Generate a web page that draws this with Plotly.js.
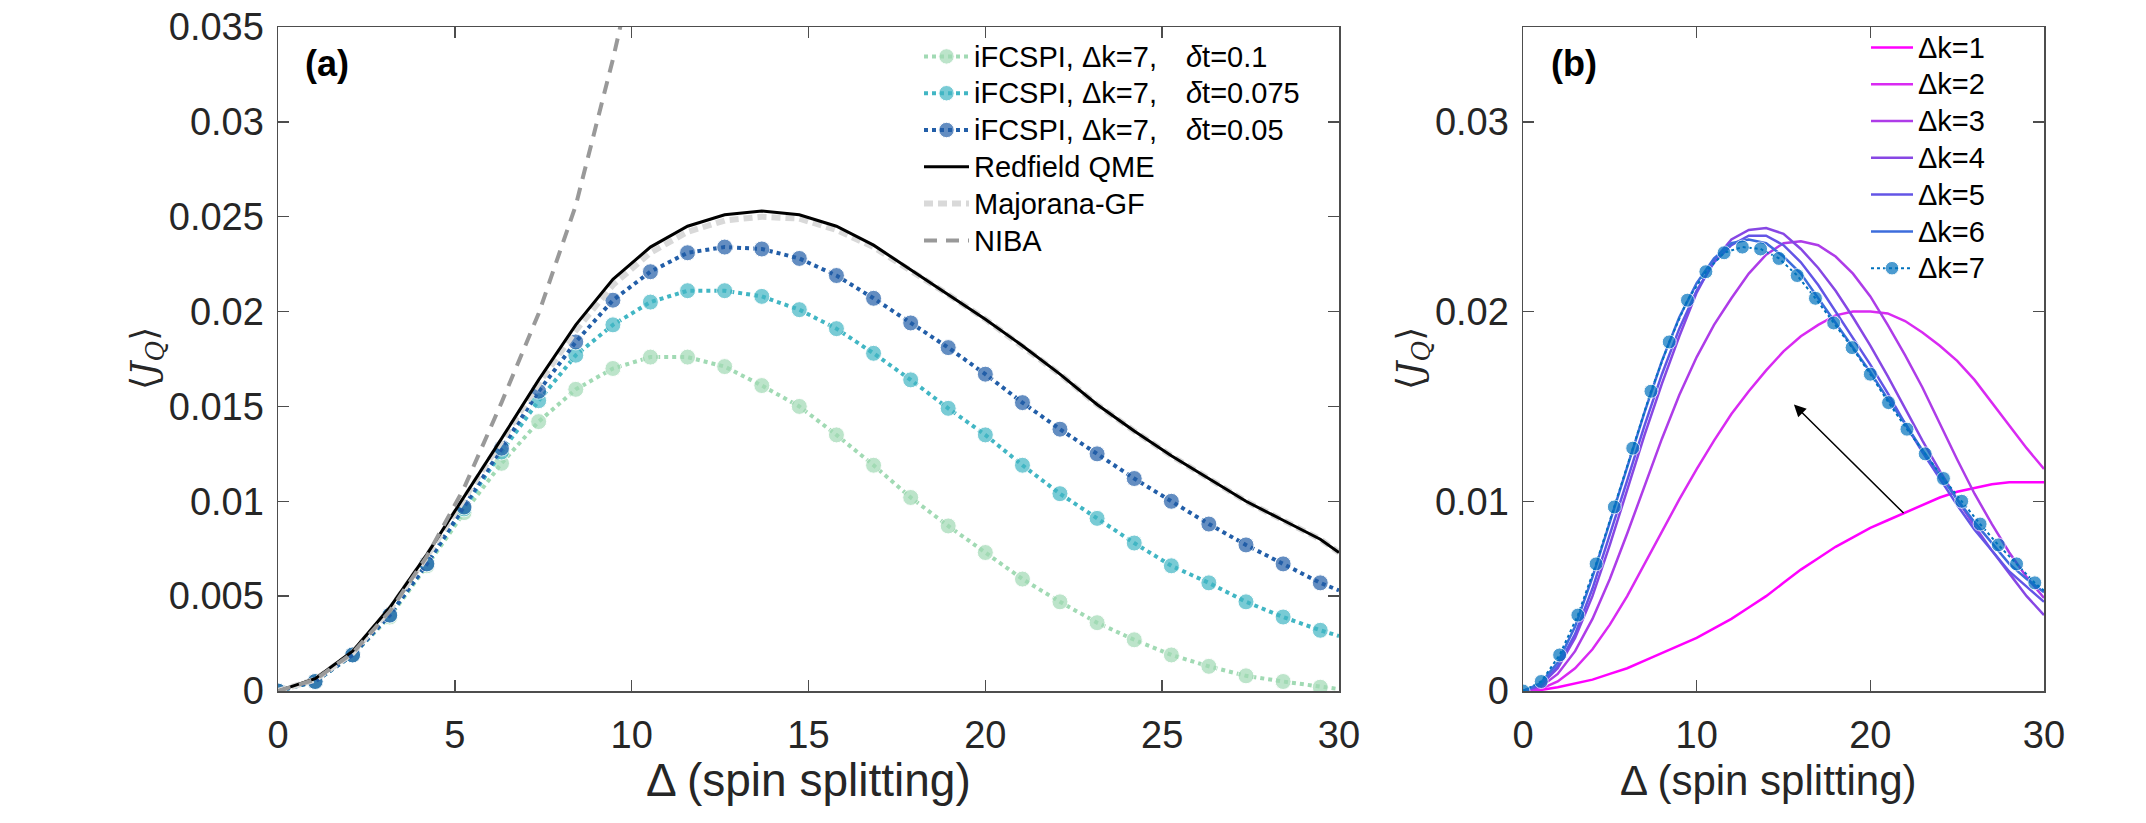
<!DOCTYPE html>
<html>
<head>
<meta charset="utf-8">
<script src="https://cdn.plot.ly/plotly-3.0.1.min.js"></script>
<style>
  html, body { margin: 0; padding: 0; background: #ffffff; }
  #plot { width: 2146px; height: 823px; }
</style>
</head>
<body>
<div id="plot"></div>
<script>
// ---- panel (a): heat current vs spin splitting ----
// Δ grid of the iFCSPI runs (last point only continues the line to the frame)
const deltaA = [0, 1.05, 2.11, 3.16, 4.21, 5.26, 6.32, 7.37, 8.42, 9.47, 10.53, 11.58, 12.63, 13.68, 14.74,
                15.79, 16.84, 17.89, 18.95, 20.00, 21.05, 22.11, 23.16, 24.21, 25.26, 26.32, 27.37, 28.42, 29.47, 30];

const jqDt010 = [0, 0.0005, 0.0019, 0.0039, 0.0066, 0.0094, 0.0120, 0.0142, 0.0159, 0.0170, 0.0176, 0.0176, 0.0171, 0.0161, 0.0150,
                 0.0135, 0.0119, 0.0102, 0.0087, 0.0073, 0.0059, 0.0047, 0.0036, 0.0027, 0.0019, 0.0013, 0.0008, 0.0005, 0.0002, 0.0001];
const jqDt0075 = [0, 0.0005, 0.0019, 0.0040, 0.0067, 0.0096, 0.0126, 0.0153, 0.0177, 0.0193, 0.0205, 0.0211, 0.0211, 0.0208, 0.0201,
                  0.0191, 0.0178, 0.0164, 0.0149, 0.0135, 0.0119, 0.0104, 0.0091, 0.0078, 0.0066, 0.0057, 0.0047, 0.0039, 0.0032, 0.0029];
const jqDt005 = [0, 0.0005, 0.0019, 0.0040, 0.0067, 0.0097, 0.0128, 0.0158, 0.0184, 0.0206, 0.0221, 0.0231, 0.0234, 0.0233, 0.0228,
                 0.0219, 0.0207, 0.0194, 0.0181, 0.0167, 0.0152, 0.0138, 0.0125, 0.0112, 0.0100, 0.0088, 0.0077, 0.0067, 0.0057, 0.0053];

const jqRedfield = [0, 0.00065, 0.0021, 0.0044, 0.0072, 0.0102, 0.0133, 0.0164, 0.0193, 0.0217, 0.0234, 0.0245, 0.0251, 0.0253, 0.0251,
                    0.0245, 0.0235, 0.0222, 0.0209, 0.0196, 0.0182, 0.0167, 0.0151, 0.0137, 0.0124, 0.0112, 0.0100, 0.0090, 0.0080, 0.0073];
const jqMajorana = [0, 0.0006, 0.0020, 0.0043, 0.0071, 0.0101, 0.0132, 0.0162, 0.0190, 0.0214, 0.0231, 0.0242, 0.0248, 0.0250, 0.0249,
                    0.0243, 0.0234, 0.0222, 0.0209, 0.0196, 0.0182, 0.0167, 0.0151, 0.0137, 0.0124, 0.0112, 0.0100, 0.0090, 0.0080, 0.0073];

const deltaNiba = [0, 1.05, 2.11, 3.16, 4.21, 5.26, 6.32, 7.37, 8.42, 9.47, 10.53];
const jqNiba = [0, 0.0006, 0.0020, 0.0042, 0.0071, 0.0107, 0.0152, 0.0199, 0.0256, 0.0333, 0.0420];

// ---- panel (b): convergence in the memory length Δk ----
const deltaB = [0, 1, 2, 3, 4, 5, 6, 7, 8, 9, 10, 11, 12, 13, 14, 15, 16, 17, 18, 19, 20, 21, 22, 23, 24, 25, 26, 27, 28, 29, 30];
const jqDk1 = [0, 0.00005, 0.0002, 0.0004, 0.0006, 0.0009, 0.0012, 0.0016, 0.0020, 0.0024, 0.0028, 0.0033, 0.0038, 0.0044, 0.0050, 0.0057,
               0.0064, 0.0070, 0.0076, 0.0081, 0.0086, 0.0090, 0.0094, 0.0098, 0.0102, 0.0105, 0.0107, 0.0109, 0.0110, 0.0110, 0.0110];
const jqDk2 = [0, 0.0001, 0.0005, 0.0012, 0.0022, 0.0035, 0.0050, 0.0067, 0.0084, 0.0101, 0.0117, 0.0132, 0.0146, 0.0158, 0.0169, 0.0179,
               0.0187, 0.0193, 0.0198, 0.0200, 0.0200, 0.0199, 0.0195, 0.0189, 0.0182, 0.0174, 0.0164, 0.0152, 0.0140, 0.0128, 0.0117];
const jqDk3 = [0, 0.0002, 0.0009, 0.0021, 0.0038, 0.0059, 0.0083, 0.0108, 0.0133, 0.0156, 0.0176, 0.0193, 0.0207, 0.0220, 0.0230, 0.0236,
               0.0237, 0.0235, 0.0229, 0.0220, 0.0208, 0.0193, 0.0177, 0.0160, 0.0141, 0.0122, 0.0104, 0.0088, 0.0073, 0.0060, 0.0049];
const jqDk4 = [0, 0.0003, 0.0012, 0.0028, 0.0050, 0.0077, 0.0106, 0.0135, 0.0162, 0.0187, 0.0210, 0.0227, 0.0238, 0.0243, 0.0244, 0.0241,
               0.0233, 0.0223, 0.0211, 0.0197, 0.0182, 0.0166, 0.0149, 0.0132, 0.0116, 0.0101, 0.0087, 0.0074, 0.0062, 0.0050, 0.0040];
const jqDk5 = [0, 0.0003, 0.0013, 0.0030, 0.0054, 0.0082, 0.0111, 0.0140, 0.0167, 0.0191, 0.0211, 0.0226, 0.0235, 0.0240, 0.0240, 0.0235,
               0.0226, 0.0214, 0.0200, 0.0186, 0.0172, 0.0157, 0.0141, 0.0126, 0.0112, 0.0098, 0.0085, 0.0074, 0.0063, 0.0055, 0.0047];
const jqDk6 = [0, 0.0004, 0.0015, 0.0034, 0.0060, 0.0089, 0.0119, 0.0147, 0.0174, 0.0197, 0.0215, 0.0228, 0.0236, 0.0238, 0.0236, 0.0229,
               0.0220, 0.0207, 0.0194, 0.0181, 0.0168, 0.0154, 0.0141, 0.0127, 0.0114, 0.0101, 0.0089, 0.0078, 0.0067, 0.0059, 0.0052];
// Δk=7 is the converged iFCSPI run (δt=0.05) shown in panel (a)
const dkLabels = ['Δk=1', 'Δk=2', 'Δk=3', 'Δk=4', 'Δk=5', 'Δk=6', 'Δk=7'];
const dkColors = ['#ff00ff', '#d92af2', '#ae3ce8', '#8747e4', '#6355e6', '#3d6ddc', '#0072bd'];

const FONT = 'Liberation Sans, Arial, Helvetica, sans-serif';
const MATHFONT = 'DejaVu Serif, Liberation Serif, serif';
const TICKCOL = '#262626';
const AXCOL = '#4d4d4d';

// marker sizes: no marker on the frame-closing point
const mk = (n, s) => deltaA.map((_, i) => (i < n ? s : 0));
// legend rows keep a tight pitch while the label itself is drawn a little larger
const big = (t, px) => '<span style="font-size:' + px + 'px">' + t + '</span>';

const traces = [];
const ifcspi = [
  { y: jqDt010, color: '#a1dab4', dt: '0.1' },
  { y: jqDt0075, color: '#41b6c4', dt: '0.075' },
  { y: jqDt005, color: '#225ea8', dt: '0.05' }
];
ifcspi.forEach((s, i) => {
  traces.push({
    x: deltaA, y: s.y, xaxis: 'x', yaxis: 'y', mode: 'lines+markers', legend: 'legend', legendrank: i + 1,
    name: big('iFCSPI, Δk=7,\u2003<i>δ</i>t=' + s.dt, 29),
    line: { color: s.color, width: 4, dash: 'dot' },
    marker: { color: s.color, size: mk(deltaA.length - 1, 16), symbol: 'circle' }
  });
});
traces.push({
  x: deltaA, y: jqMajorana, xaxis: 'x', yaxis: 'y', mode: 'lines', legend: 'legend', legendrank: 1001,
  name: big('Majorana-GF', 29), line: { color: '#d9d9d9', width: 6, dash: '9px,5px' }
});
traces.push({
  x: deltaA, y: jqRedfield, xaxis: 'x', yaxis: 'y', mode: 'lines', legend: 'legend', legendrank: 1000,
  name: big('Redfield QME', 29), line: { color: '#000000', width: 3 }
});
traces.push({
  x: deltaNiba, y: jqNiba, xaxis: 'x', yaxis: 'y', mode: 'lines', legend: 'legend', legendrank: 1002,
  name: big('NIBA', 29), line: { color: '#999999', width: 4, dash: '13px,9px' }
});

const dkSeries = [jqDk1, jqDk2, jqDk3, jqDk4, jqDk5, jqDk6];
dkSeries.forEach((ys, k) => {
  traces.push({
    x: deltaB, y: ys, xaxis: 'x2', yaxis: 'y2', mode: 'lines', legend: 'legend2',
    name: big(dkLabels[k], 29), line: { color: dkColors[k], width: 2.5 }
  });
});
traces.push({
  x: deltaA, y: jqDt005, xaxis: 'x2', yaxis: 'y2', mode: 'lines+markers', legend: 'legend2',
  name: big(dkLabels[6], 29), line: { color: dkColors[6], width: 2, dash: 'dot' },
  marker: { color: dkColors[6], size: mk(deltaA.length - 1, 14) }
});

const axisCommon = {
  showline: true, linecolor: AXCOL, linewidth: 1.5, mirror: 'ticks',
  ticks: 'inside', ticklen: 11, tickwidth: 1.5, tickcolor: AXCOL,
  showgrid: false, zeroline: false
};
const tickFont = { family: FONT, size: 38, color: TICKCOL };
const yTitleText = '⟨<i>J</i><sub><i>Q</i></sub>⟩';

const layout = {
  width: 2146, height: 823,
  margin: { l: 0, r: 0, t: 0, b: 0 },
  paper_bgcolor: '#ffffff', plot_bgcolor: '#ffffff',
  font: { family: FONT, color: TICKCOL },
  showlegend: true,
  xaxis: Object.assign({}, axisCommon, {
    domain: [278 / 2146, 1339 / 2146], range: [0, 30], tickvals: [0, 5, 10, 15, 20, 25, 30],
    tickfont: tickFont, ticklabelstandoff: 10, anchor: 'y'
  }),
  yaxis: Object.assign({}, axisCommon, {
    domain: [1 - 691 / 823, 1 - 27 / 823], range: [0, 0.035],
    tickvals: [0, 0.005, 0.01, 0.015, 0.02, 0.025, 0.03, 0.035],
    ticktext: ['0', '0.005', '0.01', '0.015', '0.02', '0.025', '0.03', '0.035'],
    tickfont: tickFont, ticklabelstandoff: 5, anchor: 'x'
  }),
  xaxis2: Object.assign({}, axisCommon, {
    domain: [1523 / 2146, 2044 / 2146], range: [0, 30], tickvals: [0, 10, 20, 30],
    tickfont: tickFont, ticklabelstandoff: 10, anchor: 'y2'
  }),
  yaxis2: Object.assign({}, axisCommon, {
    domain: [1 - 691 / 823, 1 - 27 / 823], range: [0, 0.035],
    tickvals: [0, 0.01, 0.02, 0.03], ticktext: ['0', '0.01', '0.02', '0.03'],
    tickfont: tickFont, ticklabelstandoff: 5, anchor: 'x2'
  }),
  legend: {
    x: 919 / 2146, y: 1 - 33 / 823, xanchor: 'left', yanchor: 'top',
    bgcolor: 'rgba(0,0,0,0)', borderwidth: 0, tracegroupgap: 0, itemwidth: 45,
    font: { family: FONT, size: 26, color: '#000000' }
  },
  legend2: {
    x: 1866 / 2146, y: 1 - 24 / 823, xanchor: 'left', yanchor: 'top',
    bgcolor: 'rgba(0,0,0,0)', borderwidth: 0, tracegroupgap: 0, itemwidth: 42,
    font: { family: FONT, size: 26, color: '#000000' }
  },
  annotations: [
    { xref: 'x domain', yref: 'y domain', x: 0.024, y: 0.945, xanchor: 'left', yanchor: 'middle',
      text: '<b>(a)</b>', showarrow: false,
      font: { family: 'Liberation Sans Narrow, ' + FONT, size: 36, color: '#000000' } },
    { xref: 'x2 domain', yref: 'y2 domain', x: 0.05, y: 0.945, xanchor: 'left', yanchor: 'middle',
      text: '<b>(b)</b>', showarrow: false,
      font: { family: 'Liberation Sans Narrow, ' + FONT, size: 36, color: '#000000' } },
    // axis titles
    { xref: 'paper', yref: 'paper', x: 808 / 2146, y: 1 - 780 / 823, xanchor: 'center', yanchor: 'middle',
      text: 'Δ (spin splitting)', showarrow: false, font: { family: FONT, size: 46, color: TICKCOL } },
    { xref: 'paper', yref: 'paper', x: 1768 / 2146, y: 1 - 780 / 823, xanchor: 'center', yanchor: 'middle',
      text: 'Δ (spin splitting)', showarrow: false, font: { family: FONT, size: 42, color: TICKCOL } },
    { xref: 'paper', yref: 'paper', x: 146 / 2146, y: 1 - 359 / 823, xanchor: 'center', yanchor: 'middle',
      textangle: -90, text: yTitleText, showarrow: false,
      font: { family: MATHFONT, size: 36, color: TICKCOL } },
    { xref: 'paper', yref: 'paper', x: 1412 / 2146, y: 1 - 359 / 823, xanchor: 'center', yanchor: 'middle',
      textangle: -90, text: yTitleText, showarrow: false,
      font: { family: MATHFONT, size: 36, color: TICKCOL } },
    // direction of increasing Δk
    { xref: 'x2', yref: 'y2', axref: 'x2', ayref: 'y2',
      x: 15.6, y: 0.0151, ax: 22.0, ay: 0.0093, text: '',
      showarrow: true, arrowhead: 2, arrowsize: 1.6, arrowwidth: 1.5, arrowcolor: '#000000' }
  ]
};

Plotly.newPlot('plot', traces, layout, { staticPlot: true, displayModeBar: false });
</script>
</body>
</html>
